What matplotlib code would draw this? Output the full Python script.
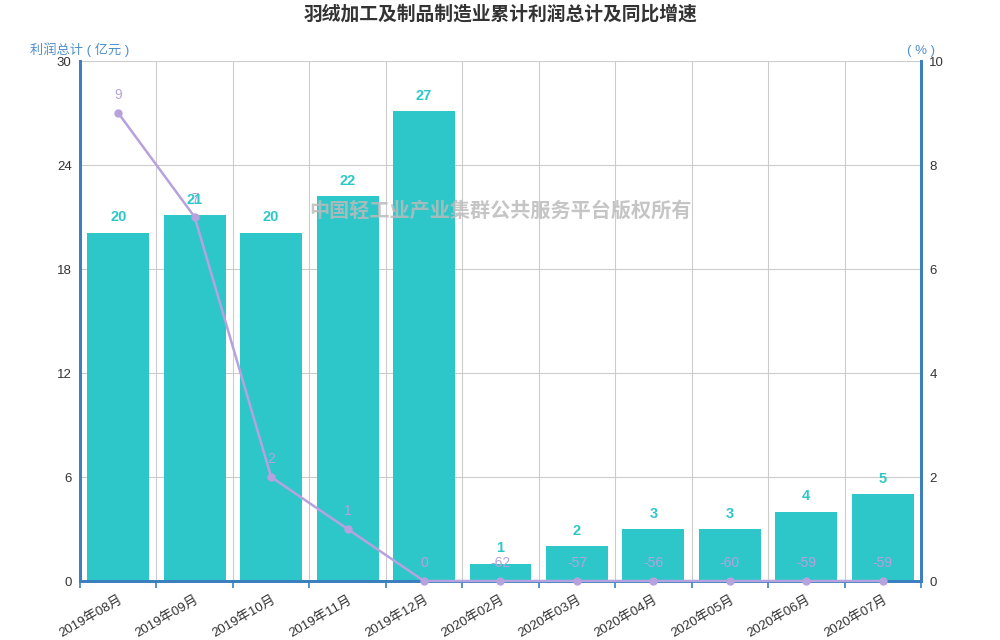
import numpy as np
import matplotlib.pyplot as plt

plt.rcParams['font.family'] = ['Liberation Sans', 'Noto Sans CJK SC', 'DejaVu Sans']

# Daten
monate = ['2019年08月', '2019年09月', '2019年10月', '2019年11月', '2019年12月',
          '2020年02月', '2020年03月', '2020年04月', '2020年05月', '2020年06月', '2020年07月']
gewinn = [20.1, 21.1, 20.1, 22.2, 27.1, 1.0, 2.0, 3.0, 3.0, 4.0, 5.0]  # 亿元
wachstum = [9, 7, 2, 1, 0, -62, -57, -56, -60, -59, -59]  # %

teal = '#2EC7C9'
lila = '#B6A2DE'
achsblau = '#3A7FBF'

fig = plt.figure(figsize=(10, 6.4), dpi=100)
ax1 = fig.add_axes([0.08, 1 - 581 / 640, 0.841, 520 / 640])
ax2 = ax1.twinx()

x = np.arange(len(monate))
ax1.bar(x, gewinn, width=0.81, color=teal, zorder=2)
ax1.set_xlim(-0.5, len(monate) - 0.5)
ax1.set_ylim(0, 30)
ax1.set_yticks([0, 6, 12, 18, 24, 30])
ax2.set_ylim(0, 10)
ax2.set_yticks([0, 2, 4, 6, 8, 10])

# Gitter: vertikal an Kategoriegrenzen
ax1.set_xticks(np.arange(len(monate) + 1) - 0.5)
ax1.set_xticklabels([])
ax1.set_xticks(x, minor=True)
ax1.set_xticklabels(monate, minor=True, rotation=30, ha='right', rotation_mode='anchor',
                    fontsize=9.5, color='#333333')
ax1.tick_params(axis='x', which='minor', length=0, pad=9)
ax1.tick_params(axis='x', which='major', length=5, color=achsblau, width=1.2)
ax1.grid(True, which='major', color='#cccccc', linewidth=0.8, zorder=0)
ax1.set_axisbelow(True)

ax1.tick_params(axis='y', length=0, labelsize=9.5, labelcolor='#333333', pad=6)
ax2.tick_params(axis='y', length=0, labelsize=9.5, labelcolor='#333333', pad=6)

for sp in ['top']:
    ax1.spines[sp].set_visible(False)
    ax2.spines[sp].set_visible(False)
for a in (ax1, ax2):
    a.spines['left'].set_color(achsblau)
    a.spines['left'].set_linewidth(2)
    a.spines['right'].set_color(achsblau)
    a.spines['right'].set_linewidth(2)
    a.spines['bottom'].set_color(achsblau)
    a.spines['bottom'].set_linewidth(2)

# Linie (Werte unter 0 werden an der Achse gezeichnet)
y_linie = np.maximum(np.array(wachstum, dtype=float), 0)
ax2.plot(x, y_linie, color=lila, linewidth=1.8, marker='o', markersize=5, zorder=3, clip_on=False)
for xi, yi, w in zip(x, y_linie, wachstum):
    ax2.annotate(str(w), (xi, yi), xytext=(0, 8), textcoords='offset points',
                 ha='center', va='bottom', color=lila, fontsize=10, zorder=4)

# Balkenbeschriftung
ax3 = ax1.twinx()
ax3.set_ylim(0, 30)
ax3.axis('off')
for xi, g in zip(x, gewinn):
    ax3.annotate('%d' % round(g), (xi, g), xytext=(0, 6), textcoords='offset points',
                 ha='center', va='bottom', color=teal, fontsize=10.5, fontweight='bold',
                 zorder=5)

ax1.text(0.0, 1.008, '利润总计 ( 亿元 )', transform=ax1.transAxes, ha='center', va='bottom',
         color='#4F8FCB', fontsize=9.5)
ax2.text(1.0, 1.008, '( % )', transform=ax2.transAxes, ha='center', va='bottom',
         color='#4F8FCB', fontsize=9.5)

fig.text(0.5, 0.978, '羽绒加工及制品制造业累计利润总计及同比增速', ha='center', va='center',
         fontsize=13.5, fontweight='bold', color='#333333', family='Noto Sans CJK SC')

fig.text(0.5, 1 - 210 / 640, '中国轻工业产业集群公共服务平台版权所有', ha='center', va='center',
         fontsize=14.5, fontweight='bold', color='#bbbbbb', alpha=0.85, zorder=10,
         family='Noto Sans CJK SC')

fig.savefig('out.png', dpi=100)
